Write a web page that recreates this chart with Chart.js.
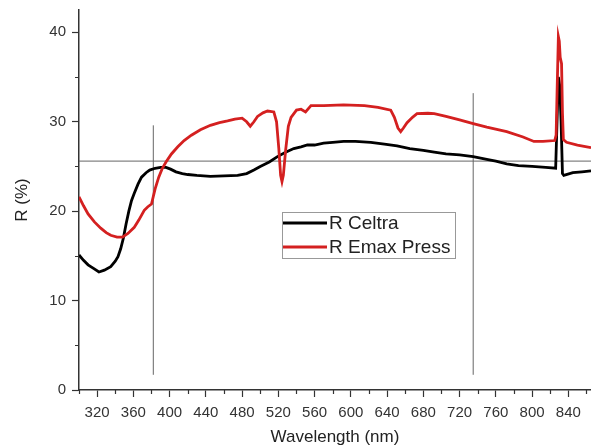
<!DOCTYPE html>
<html>
<head>
<meta charset="utf-8">
<script src="https://cdn.jsdelivr.net/npm/chart.js@4/dist/chart.umd.min.js"></script>
<style>
    html, body { margin: 0; padding: 0; background: #fff; }
    #wrap { width: 591px; height: 448px; position: relative; }
</style>
</head>
<body>
<div id="wrap"><canvas id="reflChart"></canvas></div>
<script>
// --- Data
const celtraNm = [300, 305, 310, 316, 322, 328, 335, 340, 343, 346, 349, 352, 355, 358, 361, 365, 369, 374, 378, 384,
    390, 396, 401, 407, 414, 420, 430, 445, 460, 475, 485, 493, 500, 510, 519, 528, 537, 545, 552, 560,
    570, 580, 592, 605, 622, 637, 651, 665, 680, 692, 705, 720, 735, 750, 760, 772, 785, 800, 815, 826,
    827.5, 829, 830.5, 832, 833.5, 835, 845, 855, 865];
const celtraR = [15.1, 14.5, 14.0, 13.6, 13.2, 13.4, 13.8, 14.4, 14.9, 15.8, 17.0, 18.6, 20.0, 21.2, 22.0, 23.0, 23.8, 24.3, 24.6, 24.8,
    24.9, 24.9, 24.7, 24.4, 24.2, 24.1, 24.0, 23.9, 23.95, 24.0, 24.2, 24.6, 25.0, 25.5, 26.1, 26.6, 27.0, 27.2, 27.4, 27.4,
    27.6, 27.7, 27.8, 27.8, 27.7, 27.5, 27.3, 27.0, 26.8, 26.6, 26.4, 26.3, 26.1, 25.8, 25.6, 25.3, 25.1, 25.0, 24.9, 24.8,
    30, 35, 34, 30, 24.2, 24.0, 24.3, 24.4, 24.5];

const emaxNm = [300, 305, 310, 317, 324, 330, 335, 342, 348, 354, 361, 366, 372, 376, 380, 384, 388, 392, 396, 402,
    409, 416, 424, 434, 445, 455, 464, 472, 480, 485, 489, 493, 497, 503, 508, 515, 518, 520.5, 522.5, 524,
    525.5, 528, 531, 534, 540, 545, 550, 556, 570, 592, 615, 630, 644, 648, 652, 655, 658, 662, 668, 673,
    685, 692, 705, 720, 735, 750, 772, 790, 802, 812, 825, 826.5, 827.5, 829, 830, 831, 832.5, 833.5, 834.5, 838,
    850, 865];
const emaxR = [21.6, 20.6, 19.7, 18.8, 18.1, 17.6, 17.3, 17.1, 17.1, 17.5, 18.2, 19.0, 20.1, 20.5, 20.8, 22.5, 23.8, 24.8, 25.5, 26.4,
    27.2, 27.9, 28.5, 29.1, 29.6, 29.9, 30.1, 30.3, 30.4, 30.0, 29.5, 30.0, 30.6, 31.0, 31.2, 31.1, 30.0, 27.0, 24.0, 23.3,
    24.0, 26.8, 29.5, 30.5, 31.3, 31.4, 31.1, 31.8, 31.8, 31.9, 31.8, 31.6, 31.3, 30.5, 29.3, 28.9, 29.3, 29.9, 30.5, 30.9,
    30.95, 30.9, 30.6, 30.2, 29.8, 29.4, 28.9, 28.3, 27.8, 27.8, 27.9, 28.5, 33, 39.5, 39, 37.2, 36.5, 31, 28, 27.7,
    27.4, 27.1];

// cursor lines drawn on the original plot
const cursor1Nm = [382, 382];
const cursor1R = [1.7, 29.6];
const cursor2Nm = [735, 735];
const cursor2R = [1.7, 33.2];
const cursorHNm = [300, 865];
const cursorHR = [25.6, 25.6];

const xTicks = [320, 360, 400, 440, 480, 520, 560, 600, 640, 680, 720, 760, 800, 840];
const yTicks = [0, 10, 20, 30, 40];

const seriesNames = ['R Celtra', 'R Emax Press'];
const seriesColors = ['#000000', '#d42020'];

function toPoints(xs, ys) {
    return xs.map((x, i) => ({ x: x, y: ys[i] }));
}

const FONT = '"Liberation Sans", Arial, sans-serif';

// --- Minor ticks (half step between labelled ticks)
const minorTicks = {
    id: 'minorTicks',
    afterDraw(chart) {
        const ctx = chart.ctx;
        const xs = chart.scales.x, ys = chart.scales.y;
        ctx.save();
        ctx.strokeStyle = '#333';
        ctx.lineWidth = 1.2;
        ctx.beginPath();
        for (let v = xs.min; v <= xs.max; v += 20) {
            if (xTicks.includes(v)) continue;
            const px = Math.round(xs.getPixelForValue(v)) + 0.5;
            ctx.moveTo(px, ys.bottom);
            ctx.lineTo(px, ys.bottom + 4);
        }
        for (let v = 5; v < ys.max; v += 10) {
            const py = Math.round(ys.getPixelForValue(v)) + 0.5;
            ctx.moveTo(xs.left, py);
            ctx.lineTo(xs.left - 4, py);
        }
        ctx.stroke();
        ctx.restore();
    }
};

// --- Boxed legend inside the plot
const boxLegend = {
    id: 'boxLegend',
    afterDraw(chart) {
        const ctx = chart.ctx;
        const left = 282, top = 212, w = 173, h = 46;
        ctx.save();
        ctx.fillStyle = '#fff';
        ctx.fillRect(left, top, w, h);
        ctx.strokeStyle = '#999';
        ctx.lineWidth = 1;
        ctx.strokeRect(left + 0.5, top + 0.5, w, h);
        ctx.font = '19px ' + FONT;
        ctx.textBaseline = 'middle';
        seriesNames.forEach((name, i) => {
            const y = top + 11 + i * 24;
            ctx.strokeStyle = seriesColors[i];
            ctx.lineWidth = 3;
            ctx.beginPath();
            ctx.moveTo(left + 1, y);
            ctx.lineTo(left + 45, y);
            ctx.stroke();
            ctx.fillStyle = '#222';
            ctx.fillText(name, left + 47, y + 1);
        });
        ctx.restore();
    }
};

const cursorStyle = { borderColor: '#666', borderWidth: 1, pointRadius: 0, order: 3 };

new Chart(document.getElementById('reflChart').getContext('2d'), {
    type: 'line',
    data: {
        datasets: [
            { label: seriesNames[1], data: toPoints(emaxNm, emaxR), borderColor: seriesColors[1], borderWidth: 2.8, pointRadius: 0, order: 0 },
            { label: seriesNames[0], data: toPoints(celtraNm, celtraR), borderColor: seriesColors[0], borderWidth: 2.8, pointRadius: 0, order: 1 },
            Object.assign({ label: 'c1', data: toPoints(cursor1Nm, cursor1R) }, cursorStyle),
            Object.assign({ label: 'c2', data: toPoints(cursor2Nm, cursor2R) }, cursorStyle),
            Object.assign({ label: 'ch', data: toPoints(cursorHNm, cursorHR) }, cursorStyle)
        ]
    },
    options: {
        responsive: true,
        maintainAspectRatio: false,
        animation: false,
        layout: { padding: { top: 10, right: 0, left: 0, bottom: 0 } },
        plugins: { legend: { display: false }, tooltip: { enabled: false } },
        scales: {
            x: {
                type: 'linear',
                min: 300,
                max: 865,
                afterFit(scale) { scale.height = 58; scale.paddingLeft = 0; scale.paddingRight = 0; },
                ticks: {
                    stepSize: 40,
                    includeBounds: false,
                    autoSkip: false,
                    maxRotation: 0,
                    padding: 7,
                    color: '#333',
                    font: { family: FONT, size: 15 },
                    callback: (v) => xTicks.includes(v) ? String(v) : ''
                },
                grid: { drawOnChartArea: false, tickLength: 7, tickColor: '#333', tickWidth: 1.2 },
                border: { color: '#333', width: 1.5 },
                title: { display: true, text: 'Wavelength (nm)', color: '#222', font: { family: FONT, size: 17 }, padding: { top: 0, bottom: 0 } }
            },
            y: {
                min: 0,
                max: 42.5,
                afterFit(scale) { scale.width = 79; scale.paddingTop = 0; scale.paddingBottom = 0; },
                ticks: {
                    stepSize: 10,
                    includeBounds: false,
                    padding: 6,
                    color: '#333',
                    font: { family: FONT, size: 15 },
                    callback: (v) => yTicks.includes(v) ? String(v) : ''
                },
                grid: { drawOnChartArea: false, tickLength: 7, tickColor: '#333', tickWidth: 1.2 },
                border: { color: '#333', width: 1.5 },
                title: { display: true, text: 'R (%)', color: '#222', font: { family: FONT, size: 17 }, padding: { top: 12, bottom: 0 } }
            }
        }
    },
    plugins: [minorTicks, boxLegend]
});
</script>
</body>
</html>
